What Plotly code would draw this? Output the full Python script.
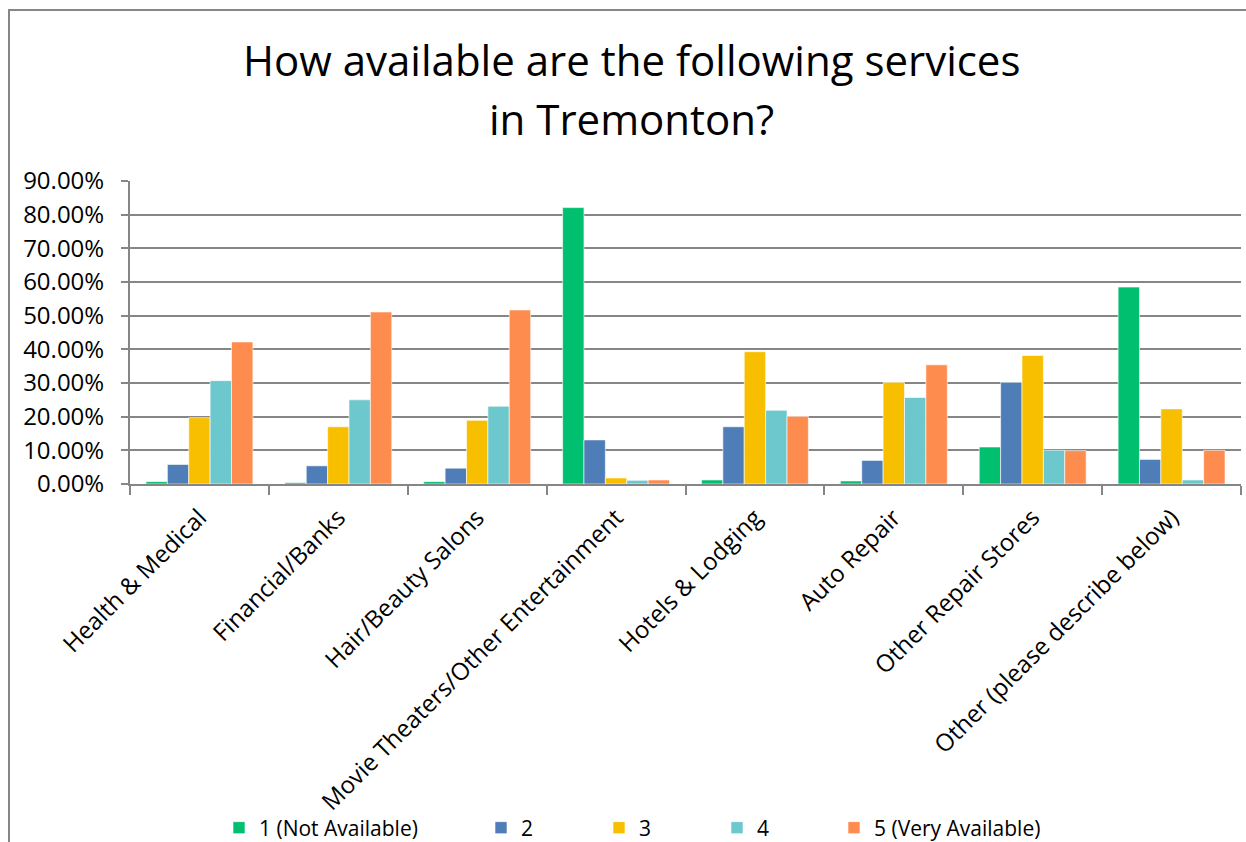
import plotly.graph_objects as go

categories = [
    "Health & Medical",
    "Financial/Banks",
    "Hair/Beauty Salons",
    "Movie Theaters/Other Entertainment",
    "Hotels & Lodging",
    "Auto Repair",
    "Other Repair Stores",
    "Other (please describe below)",
]

series_names = ["1 (Not Available)", "2", "3", "4", "5 (Very Available)"]

not_available = [0.007, 0.004, 0.007, 0.821, 0.012, 0.009, 0.110, 0.585]
rating_2 = [0.058, 0.054, 0.047, 0.131, 0.170, 0.070, 0.302, 0.073]
rating_3 = [0.197, 0.170, 0.189, 0.018, 0.393, 0.302, 0.382, 0.223]
rating_4 = [0.307, 0.250, 0.231, 0.011, 0.219, 0.257, 0.100, 0.012]
very_available = [0.422, 0.511, 0.517, 0.012, 0.201, 0.354, 0.099, 0.100]

series_values = [not_available, rating_2, rating_3, rating_4, very_available]
colors = ["#00BF6F", "#4F7DB8", "#F8BF00", "#6CC8CD", "#FF8C4F"]

FONT = "Open Sans"
GRID = "#868686"

# plot area in pixels: x 130..1241, y 181..484
W, H = 1246, 842
L, R, T, B = 130, 1241, 181, 484


def px_x(p):
    return (p - L) / (R - L)


def px_y(p):
    return (B - p) / (B - T)


legend_left = [219, 481, 599, 717, 834]

fig = go.Figure()
for i, (name, vals, col) in enumerate(zip(series_names, series_values, colors)):
    key = "legend" if i == 0 else f"legend{i + 1}"
    fig.add_trace(go.Bar(
        x=categories, y=vals, name=name,
        marker=dict(color=col, line=dict(color="rgba(255,255,255,0.6)", width=1)),
        legend=key,
    ))

legends = {}
for i, lx in enumerate(legend_left):
    key = "legend" if i == 0 else f"legend{i + 1}"
    legends[key] = dict(
        x=px_x(lx), y=px_y(828), xanchor="left", yanchor="middle",
        orientation="h", bgcolor="rgba(0,0,0,0)",
        font=dict(family=FONT, size=21, color="#000000"),
    )

fig.update_layout(
    width=W, height=H,
    margin=dict(l=L, r=W - R, t=T, b=H - B, pad=0, autoexpand=False),
    paper_bgcolor="white", plot_bgcolor="white",
    barmode="group", bargap=0.23, bargroupgap=0,
    font=dict(family=FONT, color="#000000"),
    showlegend=True,
    **legends,
)

fig.update_xaxes(
    type="category", showgrid=False, automargin=False,
    showline=True, linecolor=GRID, linewidth=2,
    ticks="outside", tickson="boundaries", ticklen=9, tickwidth=2, tickcolor=GRID,
    tickangle=-45, ticklabelstandoff=8,
    tickfont=dict(family=FONT, size=24, color="#000000"),
)
fig.update_yaxes(
    range=[0, 0.9], dtick=0.1, tickformat=".2%", automargin=False,
    showgrid=True, gridcolor=GRID, gridwidth=2,
    showline=True, linecolor=GRID, linewidth=2,
    ticks="outside", ticklen=7, tickwidth=2, tickcolor=GRID,
    ticklabelstandoff=12,
    tickfont=dict(family=FONT, size=24, color="#000000"),
    zeroline=False,
)

# two-line title
fig.add_annotation(
    text="How available are the following services", xref="paper", yref="paper",
    x=px_x(631), y=px_y(60), xanchor="center", yanchor="middle",
    showarrow=False, font=dict(family=FONT, size=42, color="#000000"),
)
fig.add_annotation(
    text="in Tremonton?", xref="paper", yref="paper",
    x=px_x(631), y=px_y(118), xanchor="center", yanchor="middle",
    showarrow=False, font=dict(family=FONT, size=42, color="#000000"),
)

# chart frame
fig.add_shape(
    type="rect", xref="paper", yref="paper",
    x0=px_x(9), y0=px_y(900), x1=px_x(1253), y1=px_y(10),
    line=dict(color=GRID, width=2), fillcolor="rgba(0,0,0,0)", layer="below",
)

fig.write_html("out.html")
